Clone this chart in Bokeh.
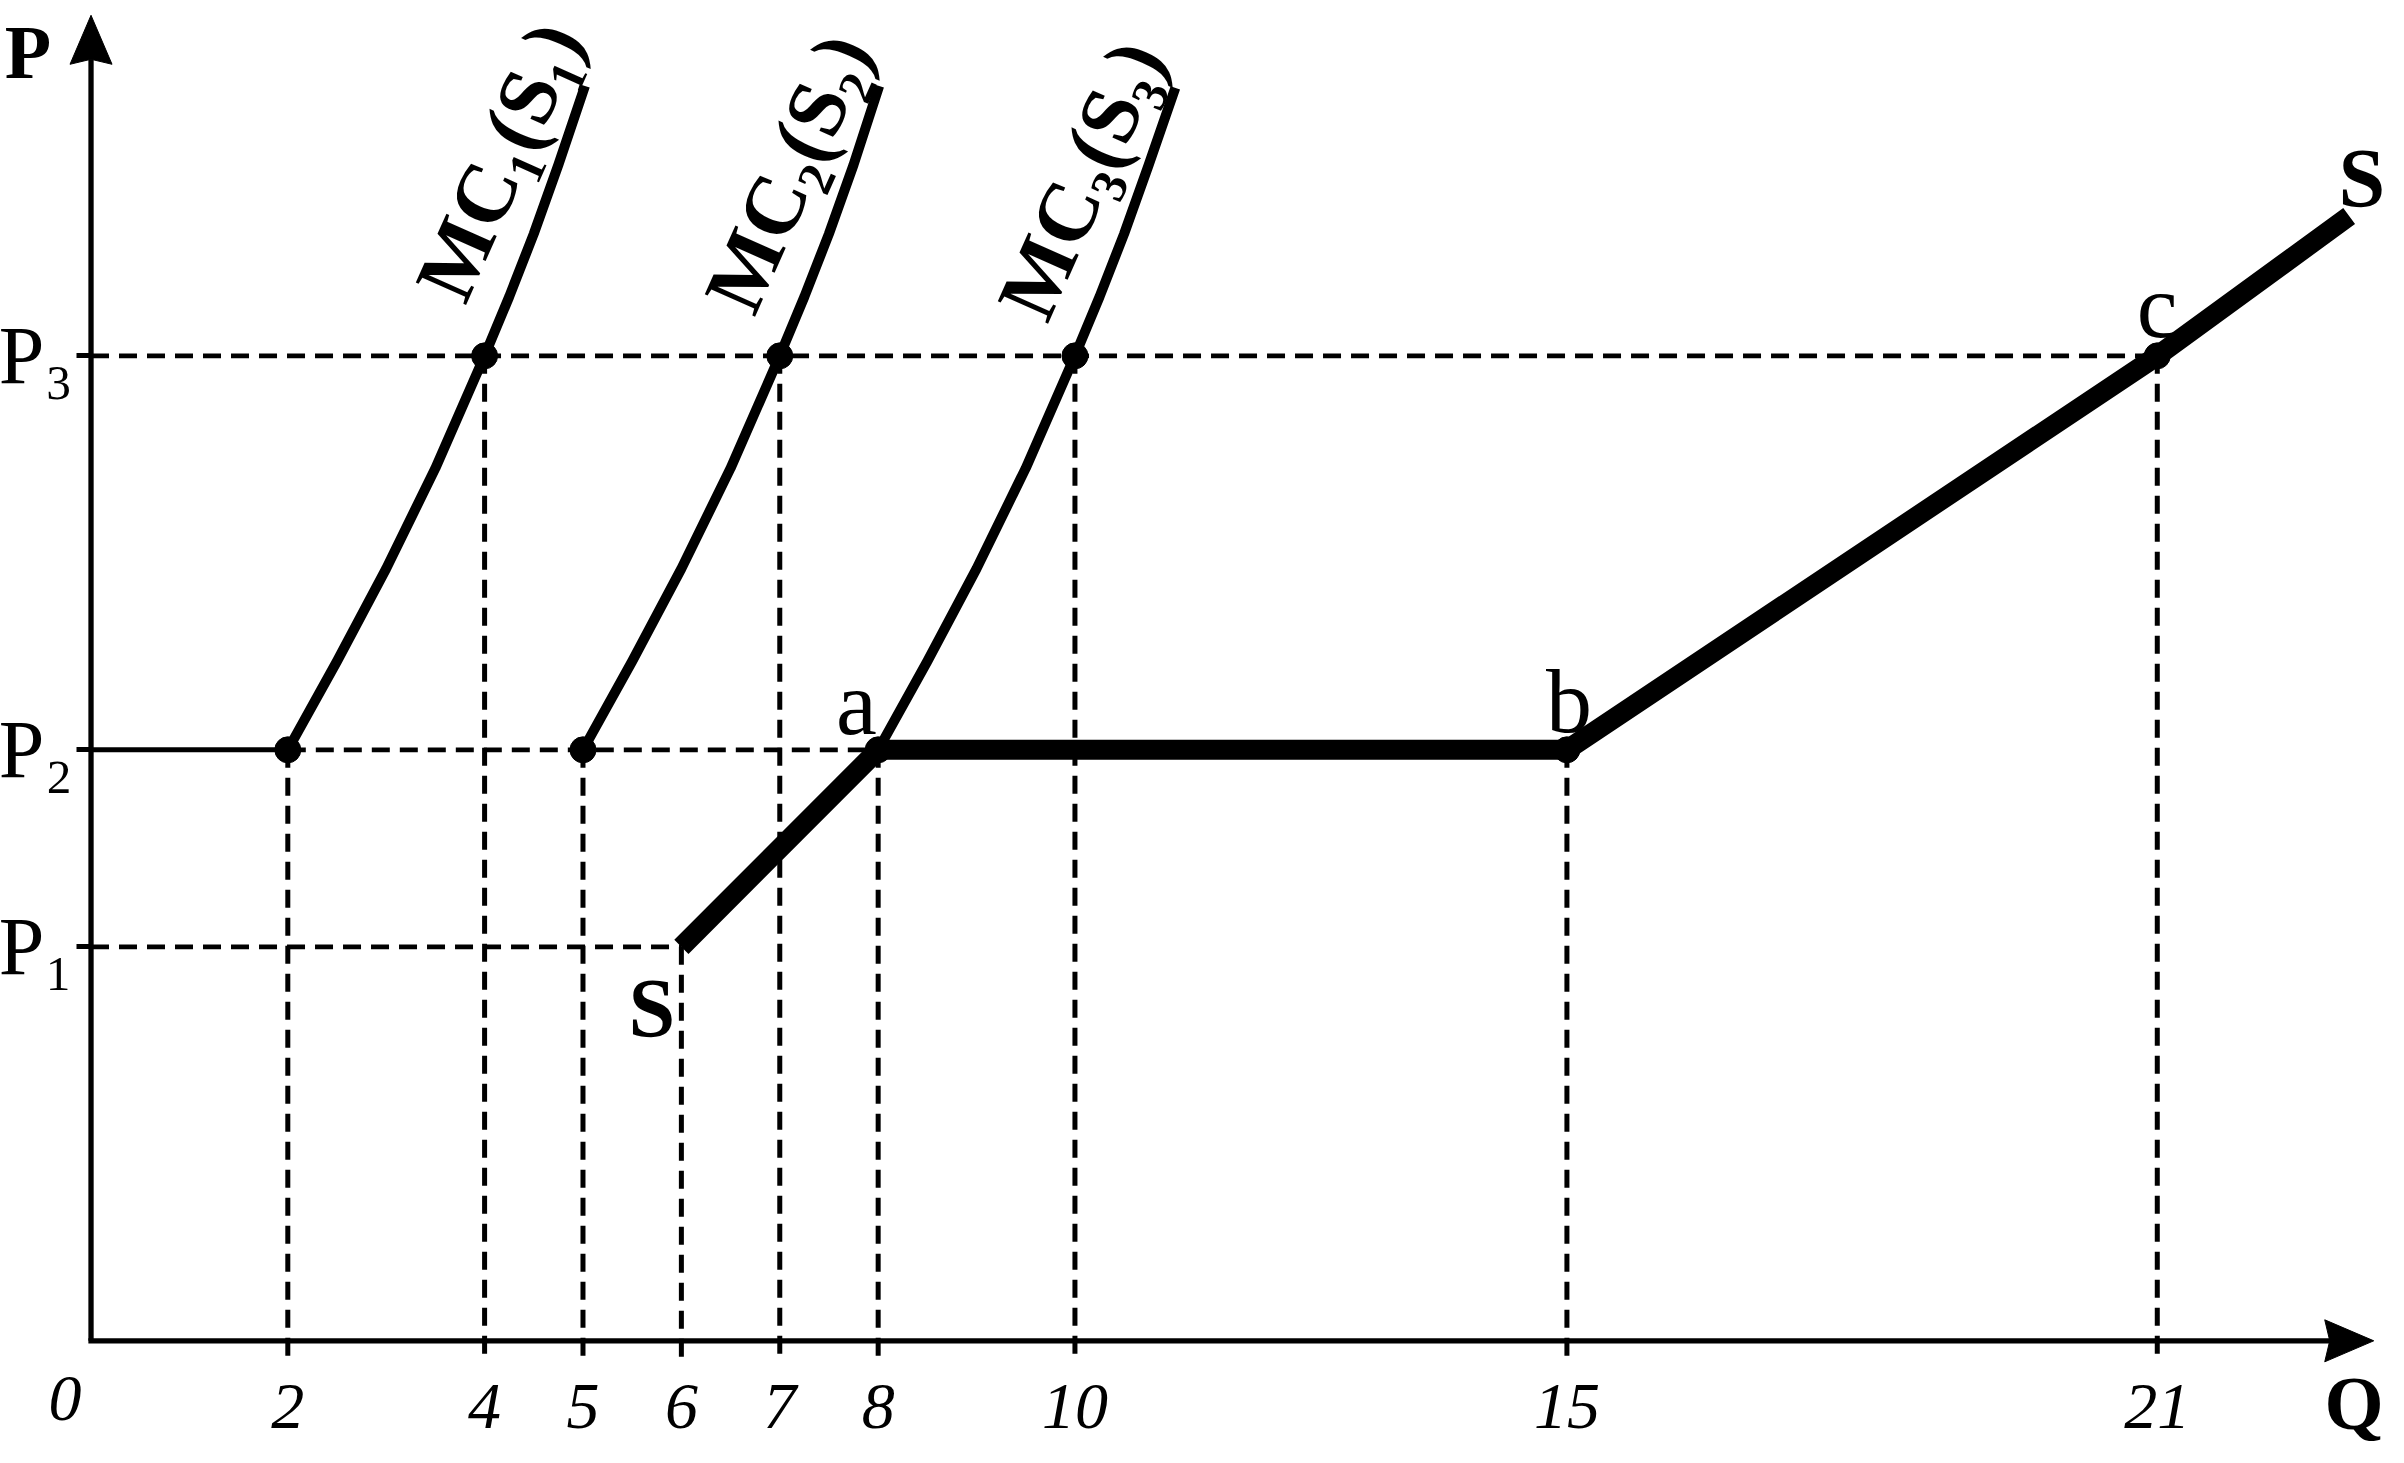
from bokeh.plotting import figure
from bokeh.models import Range1d, FixedTicker
from bokeh.core.properties import value
from bokeh.embed import file_html
from bokeh.resources import INLINE

# ---------------- data ----------------
q_ticks = [2, 4, 5, 6, 7, 8, 10, 15, 21]
q_tick_labels = ["2", "4", "5", "6", "7", "8", "10", "15", "21"]
p_levels = [2, 3, 5]
p_labels = ["P₁", "P₂", "P₃"]

mc1_q = [2.0, 2.5, 3.0, 3.5, 4.0, 4.25, 4.5, 4.75, 5.02]
mc1_p = [3.0, 3.45, 3.92, 4.43, 5.0, 5.3, 5.62, 5.97, 6.37]
mc2_q = [5.0, 5.5, 6.0, 6.5, 7.0, 7.25, 7.5, 7.75, 8.01]
mc2_p = [3.0, 3.45, 3.92, 4.43, 5.0, 5.3, 5.62, 5.97, 6.37]
mc3_q = [8.0, 8.5, 9.0, 9.5, 10.0, 10.25, 10.5, 10.75, 11.02]
mc3_p = [3.0, 3.45, 3.92, 4.43, 5.0, 5.3, 5.62, 5.97, 6.36]

s_q = [6, 8, 15, 21, 22.95]
s_p = [2, 3, 3, 5, 5.71]

dot_q = [2, 5, 8, 15, 4, 7, 10, 21]
dot_p = [3, 3, 3, 3, 5, 5, 5, 5]

# horizontal guides (dashed part) at each price level
h_from = [0, 2, 0]
h_to = [6, 8, 21]
# vertical guides: quantity and the price they drop from
v_q = [2, 4, 5, 6, 7, 8, 10, 15, 21]
v_p = [3, 5, 3, 2, 5, 3, 5, 3, 5]

point_names = ["a", "b", "c"]
mc_names = ["MC₁(S₁)", "MC₂(S₂)", "MC₃(S₃)"]

# ---------------- figure ----------------
W, H = 2388, 1447
xr0, xr1 = -0.92, 23.35
yr0, yr1 = -0.5416, 6.804
kx = W / (xr1 - xr0)
ky = H / (yr1 - yr0)

p = figure(width=W, height=H, x_range=Range1d(xr0, xr1), y_range=Range1d(yr0, yr1),
           output_backend="svg", toolbar_location=None, min_border=0)
p.outline_line_color = None
p.grid.visible = False
p.background_fill_color = "white"

SERIF = "Liberation Serif"

# x axis: tick labels only
p.xaxis.fixed_location = 0
p.xaxis.ticker = FixedTicker(ticks=q_ticks)
p.xaxis.major_label_overrides = {t: l for t, l in zip(q_ticks, q_tick_labels)}
p.xaxis.axis_line_color = None
p.xaxis.major_tick_line_color = None
p.xaxis.minor_tick_line_color = None
p.xaxis.major_label_text_font = SERIF
p.xaxis.major_label_text_font_style = "italic"
p.xaxis.major_label_text_font_size = "66px"
p.xaxis.major_label_text_color = "black"
p.xaxis.major_label_standoff = 38

# y axis: price level labels
p.yaxis.fixed_location = 0
p.yaxis.ticker = FixedTicker(ticks=p_levels)
p.yaxis.major_label_overrides = {t: l for t, l in zip(p_levels, p_labels)}
p.yaxis.axis_line_color = None
p.yaxis.major_tick_line_color = "black"
p.yaxis.major_tick_line_width = 5
p.yaxis.major_tick_out = 15
p.yaxis.major_tick_in = 0
p.yaxis.minor_tick_line_color = None
p.yaxis.major_label_text_font = SERIF
p.yaxis.major_label_text_font_size = "82px"
p.yaxis.major_label_text_color = "black"
p.yaxis.major_label_standoff = 3

# ---------------- guides ----------------
DASH = "18 10"
p.segment(x0=h_from, y0=p_levels, x1=h_to, y1=p_levels, line_color="black",
          line_width=4.7, line_dash=DASH)
p.segment(x0=[0], y0=[3], x1=[2], y1=[3], line_color="black", line_width=5)
p.segment(x0=v_q, y0=v_p, x1=v_q, y1=[-0.09] * len(v_q), line_color="black",
          line_width=5, line_dash=DASH)

# ---------------- axes with arrows ----------------
y_tip, x_tip = 6.729, 23.2
hl, hh, notch = 49, 21, 5
p.line([0, 0], [0, y_tip - (hl - notch) / ky], line_color="black", line_width=5.3)
p.line([0, x_tip - (hl - notch) / kx], [0, 0], line_color="black", line_width=5.3,
       line_cap="square")
p.patch([0, hh / kx, 0, -hh / kx],
        [y_tip, y_tip - hl / ky, y_tip - (hl - notch) / ky, y_tip - hl / ky],
        color="black", line_width=1)
p.patch([x_tip, x_tip - hl / kx, x_tip - (hl - notch) / kx, x_tip - hl / kx],
        [0, hh / ky, 0, -hh / ky], color="black", line_width=1)

# ---------------- curves ----------------
for qs, ps in ((mc1_q, mc1_p), (mc2_q, mc2_p), (mc3_q, mc3_p)):
    p.line(qs, ps, line_color="black", line_width=10, line_join="round")
p.line(s_q, s_p, line_color="black", line_width=20, line_join="round")
p.scatter(dot_q, dot_p, size=26, color="black")

# ---------------- texts ----------------
p.text(x=[-0.264], y=[-0.295], text=["0"], text_font=value(SERIF), text_font_style="italic",
       text_font_size="66px", text_align="center", text_baseline="alphabetic", text_color="black")
p.text(x=[-0.64], y=[6.545], text=["P"], text_font=value(SERIF), text_font_style="bold",
       text_font_size="76px", text_align="center", text_baseline="alphabetic", text_color="black")
p.text(x=[23.0], y=[-0.318], text=["Q"], text_font=value(SERIF), text_font_style="bold",
       text_font_size="76px", text_align="center", text_baseline="alphabetic", text_color="black")
p.text(x=[7.78, 15.02, 21.0], y=[3.24, 3.25, 5.255], text=point_names, text_font=value(SERIF),
       text_font_size="92px", text_align="center", text_baseline="alphabetic", text_color="black")
p.text(x=[5.70, 23.08], y=[1.685, 5.9], text=["S", "S"], text_font=value(SERIF),
       text_font_style="bold", text_font_size="84px", text_align="center",
       text_baseline="alphabetic", text_color="black")
p.text(x=[4.146, 7.083, 10.061], y=[5.99, 5.93, 5.895], text=mc_names, angle=1.152,
       text_font=value(SERIF), text_font_style="bold", text_font_size="84px",
       text_align="center", text_baseline="middle", text_color="black")

open("out.html", "w").write(file_html(p, INLINE))
